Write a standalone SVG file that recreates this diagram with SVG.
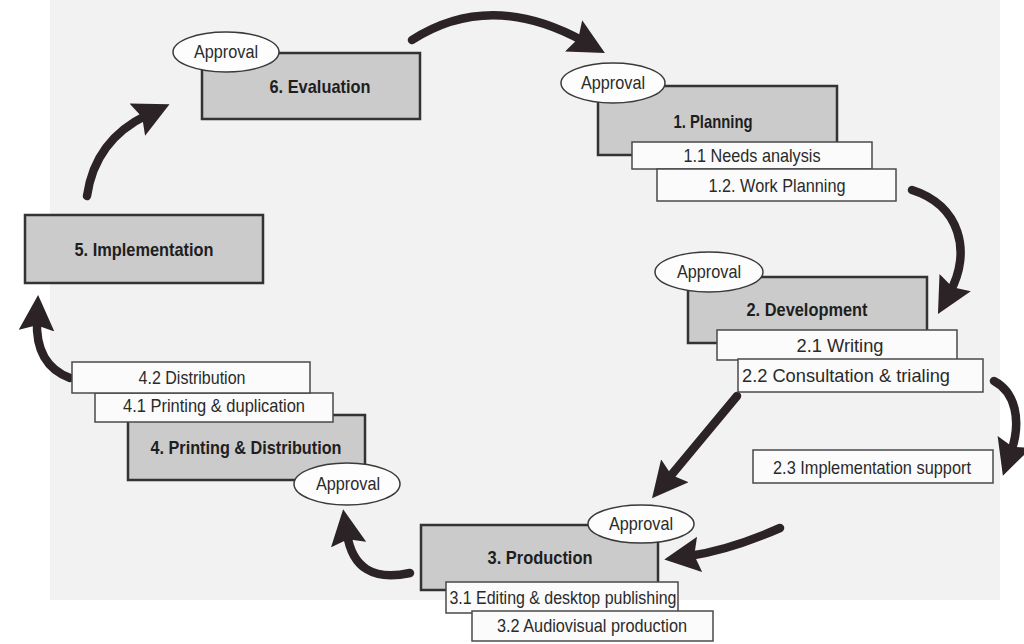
<svg xmlns="http://www.w3.org/2000/svg" width="1024" height="644" viewBox="0 0 1024 644">
  <defs>
    <marker id="ah" viewBox="0 0 10 10" refX="3" refY="5" markerWidth="4.2" markerHeight="4.2" orient="auto" markerUnits="strokeWidth">
      <path d="M0,0 L10,5 L0,10 L1.5,5 z" fill="#2b2326"/>
    </marker>
  </defs>
  <style>
    .main { fill: #cbcbcb; stroke: #333; stroke-width: 2.5; }
    .sub { fill: #fbfbfb; stroke: #4a4a4a; stroke-width: 1.5; }
    .appr { fill: #fdfdfd; stroke: #3a3a3a; stroke-width: 1.5; }
    .title { font-family: "Liberation Sans", Arial, sans-serif; font-weight: bold; font-size: 19px; fill: #1e1e1e; text-anchor: middle; }
    .lbl { font-family: "Liberation Sans", Arial, sans-serif; font-size: 18.5px; fill: #2a2a2a; text-anchor: middle; }
    .arr { fill: none; stroke: #2b2326; stroke-width: 8.5; stroke-linecap: round; marker-end: url(#ah); }
  </style>
  <rect x="0" y="0" width="1024" height="644" fill="#ffffff"/>
  <rect x="50" y="0" width="950" height="600" fill="#f2f2f2"/>

  <g id="connectors">
    <path class="arr" d="M412,40 Q490,-10 583,41"/>
    <path class="arr" d="M912,190 C960,205 972,252 950,292"/>
    <path class="arr" d="M994,381 C1015,392 1022,420 1011,452"/>
    <path class="arr" d="M737,396 L668,479"/>
    <path class="arr" d="M780,528 Q730,550 689,556"/>
    <path class="arr" d="M410,573 Q355,585 347,534"/>
    <path class="arr" d="M70,378 Q35,365 37,320"/>
    <path class="arr" d="M87,196 Q95,140 147,115"/>
  </g>

  <g id="node-6-evaluation">
    <rect class="main" x="202" y="53" width="218" height="66"/>
    <text class="title" x="320" y="93" textLength="101" lengthAdjust="spacingAndGlyphs">6. Evaluation</text>
    <ellipse class="appr" cx="226" cy="52" rx="53" ry="20"/>
    <text class="lbl" x="226" y="58" textLength="64" lengthAdjust="spacingAndGlyphs">Approval</text>
  </g>

  <g id="node-1-planning">
    <rect class="main" x="598" y="86" width="239" height="69"/>
    <text class="title" x="713" y="128" textLength="79" lengthAdjust="spacingAndGlyphs">1. Planning</text>
    <ellipse class="appr" cx="613" cy="83" rx="52" ry="20"/>
    <text class="lbl" x="613" y="89" textLength="64" lengthAdjust="spacingAndGlyphs">Approval</text>
    <rect class="sub" x="632" y="142" width="240" height="27"/>
    <text class="lbl" x="752" y="162" textLength="137" lengthAdjust="spacingAndGlyphs">1.1 Needs analysis</text>
    <rect class="sub" x="657" y="169" width="239" height="32"/>
    <text class="lbl" x="777" y="192" textLength="137" lengthAdjust="spacingAndGlyphs">1.2. Work Planning</text>
  </g>

  <g id="node-2-development">
    <rect class="main" x="688" y="277" width="239" height="66"/>
    <text class="title" x="807" y="316" textLength="121" lengthAdjust="spacingAndGlyphs">2. Development</text>
    <ellipse class="appr" cx="709" cy="272" rx="54" ry="20"/>
    <text class="lbl" x="709" y="278" textLength="64" lengthAdjust="spacingAndGlyphs">Approval</text>
    <rect class="sub" x="717" y="330" width="240" height="30"/>
    <text class="lbl" x="840" y="352" textLength="87" lengthAdjust="spacingAndGlyphs">2.1 Writing</text>
    <rect class="sub" x="738" y="359" width="245" height="33"/>
    <text class="lbl" x="846" y="382" textLength="208" lengthAdjust="spacingAndGlyphs">2.2 Consultation &amp; trialing</text>
    <rect class="sub" x="753" y="450" width="240" height="33"/>
    <text class="lbl" x="872" y="474" textLength="198" lengthAdjust="spacingAndGlyphs">2.3 Implementation support</text>
  </g>

  <g id="node-3-production">
    <rect class="main" x="421" y="525" width="237" height="65"/>
    <text class="title" x="540" y="564" textLength="105" lengthAdjust="spacingAndGlyphs">3. Production</text>
    <ellipse class="appr" cx="641" cy="524" rx="53" ry="19"/>
    <text class="lbl" x="641" y="530" textLength="64" lengthAdjust="spacingAndGlyphs">Approval</text>
    <rect class="sub" x="446" y="582" width="232" height="31"/>
    <text class="lbl" x="563" y="604" textLength="227" lengthAdjust="spacingAndGlyphs">3.1 Editing &amp; desktop publishing</text>
    <rect class="sub" x="472" y="611" width="241" height="30"/>
    <text class="lbl" x="592" y="632" textLength="190" lengthAdjust="spacingAndGlyphs">3.2 Audiovisual production</text>
  </g>

  <g id="node-4-printing">
    <rect class="main" x="128" y="415" width="237" height="65"/>
    <text class="title" x="246" y="454" textLength="191" lengthAdjust="spacingAndGlyphs">4. Printing &amp; Distribution</text>
    <rect class="sub" x="95" y="393" width="238" height="29"/>
    <text class="lbl" x="214" y="412" textLength="182" lengthAdjust="spacingAndGlyphs">4.1 Printing &amp; duplication</text>
    <rect class="sub" x="72" y="362" width="238" height="31"/>
    <text class="lbl" x="192" y="384" textLength="107" lengthAdjust="spacingAndGlyphs">4.2 Distribution</text>
    <ellipse class="appr" cx="347" cy="484" rx="53" ry="21"/>
    <text class="lbl" x="348" y="490" textLength="64" lengthAdjust="spacingAndGlyphs">Approval</text>
  </g>

  <g id="node-5-implementation">
    <rect class="main" x="25" y="215" width="238" height="68"/>
    <text class="title" x="144" y="256" textLength="139" lengthAdjust="spacingAndGlyphs">5. Implementation</text>
  </g>
</svg>
